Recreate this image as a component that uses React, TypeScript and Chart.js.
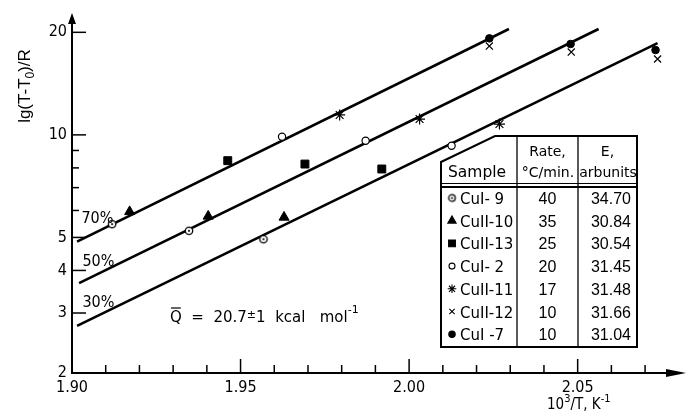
import React, { useEffect, useRef } from 'react';
import { Chart, registerables } from 'chart.js';
import { drawPoint } from 'chart.js/helpers';

Chart.register(...registerables);

const NARROW = "'Liberation Sans Narrow', 'DejaVu Sans Condensed', 'Liberation Sans', sans-serif";
const SANS = "'DejaVu Sans', 'Liberation Sans', sans-serif";
const ARIAL = "'Liberation Sans', Arial, sans-serif";

// fitted straight lines (70 %, 50 %, 30 %)
const fitLabels = ['70%', '50%', '30%'];
const fitLabelX = [1.9028, 1.9031, 1.9031];
const fitLabelY = [5.51, 4.12, 3.12];
const fit70X = [1.9015, 2.0296];
const fit70Y = [4.86, 20.45];
const fit50X = [1.9021, 2.0562];
const fit50Y = [3.67, 20.45];
const fit30X = [1.9015, 2.0737];
const fit30Y = [2.75, 18.6];

// samples (table)
const sampleNames = ['CuI- 9', 'CuII-10', 'CuII-13', 'CuI- 2', 'CuII-11', 'CuII-12', 'CuI -7'];
const sampleRates = ['40', '35', '25', '20', '17', '10', '10'];
const sampleE = ['34.70', '30.84', '30.54', '31.45', '31.48', '31.66', '31.04'];

// measured points, one per line (70 %, 50 %, 30 %)
const cuI9X = [1.9119, 1.9347, 1.9568];
const cuI9Y = [5.47, 5.23, 4.94];
const cuII10X = [1.9171, 1.9404, 1.9629];
const cuII10Y = [5.95, 5.77, 5.73];
const cuII13X = [1.9462, 1.9691, 1.9919];
const cuII13Y = [8.4, 8.21, 7.94];
const cuI2X = [1.9623, 1.9871, 2.0126];
const cuI2Y = [9.88, 9.61, 9.29];
const cuII11X = [1.9794, 2.0031, 2.0268];
const cuII11Y = [11.44, 11.13, 10.76];
const cuII12X = [2.0238, 2.0481, 2.0737];
const cuII12Y = [18.23, 17.5, 16.7];
const cuI7X = [2.0238, 2.0479, 2.0731];
const cuI7Y = [19.2, 18.48, 17.74];

const yTickValues = [2, 3, 4, 5, 10, 20];
const yMinorValues = [6, 7, 8, 9];
const xTickValues = [1.9, 1.95, 2.0, 2.05];
const xMinorValues = [1.91, 1.92, 1.93, 1.94, 1.96, 1.97, 1.98, 1.99, 2.01, 2.02, 2.03, 2.04, 2.06, 2.07];

const zip = (xs: number[], ys: number[]) => xs.map((x, i) => ({ x, y: ys[i] }));

function makeDotCircle(r: number): HTMLCanvasElement {
  const size = Math.ceil(2 * r + 4);
  const c = document.createElement('canvas');
  c.width = size;
  c.height = size;
  const g = c.getContext('2d')!;
  g.fillStyle = '#fff';
  g.strokeStyle = '#000';
  g.lineWidth = 1.3;
  g.beginPath();
  g.arc(size / 2, size / 2, r, 0, Math.PI * 2);
  g.fill();
  g.stroke();
  g.fillStyle = '#000';
  g.beginPath();
  g.arc(size / 2, size / 2, 1.1, 0, Math.PI * 2);
  g.fill();
  return c;
}

export default function App() {
  const ref = useRef<HTMLCanvasElement>(null);

  useEffect(() => {
    if (!ref.current) return;
    const dotCircle = makeDotCircle(3.7);
    const dotCircleSmall = makeDotCircle(3.3);

    const markerStyles: any[] = [
      { pointStyle: dotCircle, radius: 4, bg: '#fff', bw: 1, tStyle: dotCircleSmall, tr: 3 },
      { pointStyle: 'triangle', radius: 5.8, bg: '#000', bw: 1, tStyle: 'triangle', tr: 4.8 },
      { pointStyle: 'rect', radius: 5.6, bg: '#000', bw: 1, tStyle: 'rect', tr: 4.8 },
      { pointStyle: 'circle', radius: 3.6, bg: '#fff', bw: 1.2, tStyle: 'circle', tr: 3 },
      { pointStyle: 'star', radius: 5.5, bg: '#000', bw: 1.2, tStyle: 'star', tr: 4.3 },
      { pointStyle: 'crossRot', radius: 5, bg: '#000', bw: 1.2, tStyle: 'crossRot', tr: 3.8 },
      { pointStyle: 'circle', radius: 3.8, bg: '#000', bw: 1, tStyle: 'circle', tr: 3.2 },
    ];
    const sampleData = [
      zip(cuI9X, cuI9Y),
      zip(cuII10X, cuII10Y),
      zip(cuII13X, cuII13Y),
      zip(cuI2X, cuI2Y),
      zip(cuII11X, cuII11Y),
      zip(cuII12X, cuII12Y),
      zip(cuI7X, cuI7Y),
    ];

    const datasets: any[] = sampleData.map((d, i) => ({
      label: sampleNames[i],
      data: d,
      pointStyle: markerStyles[i].pointStyle,
      pointRadius: markerStyles[i].radius,
      pointBackgroundColor: markerStyles[i].bg,
      pointBorderColor: '#000',
      pointBorderWidth: markerStyles[i].bw,
      showLine: false,
      order: 0,
    }));
    [zip(fit70X, fit70Y), zip(fit50X, fit50Y), zip(fit30X, fit30Y)].forEach((d, i) => {
      datasets.push({
        label: fitLabels[i],
        data: d,
        showLine: true,
        borderColor: '#000',
        borderWidth: 2.6,
        pointRadius: 0,
        order: 5,
      });
    });

    const annotate = {
      id: 'annotate',
      afterDraw(chart: any) {
        const { ctx, chartArea, scales } = chart;
        const { left, right, top, bottom } = chartArea;
        const xs = scales.x;
        const ys = scales.y;
        ctx.save();
        ctx.strokeStyle = '#000';
        ctx.fillStyle = '#000';
        // axes
        ctx.lineWidth = 2;
        ctx.beginPath();
        ctx.moveTo(left, top);
        ctx.lineTo(left, bottom);
        ctx.lineTo(right, bottom);
        ctx.stroke();
        // arrows
        ctx.beginPath();
        ctx.moveTo(left - 4, top + 1);
        ctx.lineTo(left + 4, top + 1);
        ctx.lineTo(left, top - 10);
        ctx.closePath();
        ctx.fill();
        ctx.beginPath();
        ctx.moveTo(right - 1, bottom - 4);
        ctx.lineTo(right - 1, bottom + 4);
        ctx.lineTo(right + 19, bottom);
        ctx.closePath();
        ctx.fill();
        // ticks (inside)
        ctx.lineWidth = 1.5;
        yTickValues.forEach((v) => {
          if (v === 2) return;
          const p = ys.getPixelForValue(v);
          ctx.beginPath();
          ctx.moveTo(left, p);
          ctx.lineTo(left + 14, p);
          ctx.stroke();
        });
        yMinorValues.forEach((v) => {
          const p = ys.getPixelForValue(v);
          ctx.beginPath();
          ctx.moveTo(left, p);
          ctx.lineTo(left + 7, p);
          ctx.stroke();
        });
        xTickValues.forEach((v) => {
          const p = xs.getPixelForValue(v);
          ctx.beginPath();
          ctx.moveTo(p, bottom);
          ctx.lineTo(p, bottom - 14);
          ctx.stroke();
        });
        xMinorValues.forEach((v) => {
          const p = xs.getPixelForValue(v);
          ctx.beginPath();
          ctx.moveTo(p, bottom);
          ctx.lineTo(p, bottom - 8);
          ctx.stroke();
        });

        // percent labels
        ctx.font = `16px ${NARROW}`;
        ctx.textAlign = 'left';
        ctx.textBaseline = 'alphabetic';
        fitLabels.forEach((t, i) => {
          ctx.fillText(t, xs.getPixelForValue(fitLabelX[i]), ys.getPixelForValue(fitLabelY[i]));
        });

        // Y title (rotated)
        ctx.save();
        ctx.translate(30, 86);
        ctx.rotate(-Math.PI / 2);
        const big = `17px ${ARIAL}`;
        const small = `12px ${ARIAL}`;
        const parts: [string, string, number][] = [
          ['lg(T-T', big, 0],
          ['0', small, 4],
          [')/R', big, 0],
        ];
        let w = 0;
        parts.forEach(([t, f]) => {
          ctx.font = f;
          w += ctx.measureText(t).width;
        });
        let cx = -w / 2;
        parts.forEach(([t, f, dy]) => {
          ctx.font = f;
          ctx.fillText(t, cx, dy);
          cx += ctx.measureText(t).width;
        });
        ctx.restore();

        // X title
        const xParts: [string, string, number][] = [
          ['10', `15px ${NARROW}`, 0],
          ['3', `11px ${NARROW}`, -7],
          ['/T, K', `15px ${NARROW}`, 0],
          ['-1', `11px ${NARROW}`, -7],
        ];
        let xx = 547;
        xParts.forEach(([t, f, dy]) => {
          ctx.font = f;
          ctx.fillText(t, xx, 409 + dy);
          xx += ctx.measureText(t).width;
        });

        // Q text
        let qx = 170;
        const qb = 322;
        ctx.font = `15px ${SANS}`;
        ctx.fillText('Q', qx, qb);
        const qw = ctx.measureText('Q').width;
        ctx.lineWidth = 1.2;
        ctx.beginPath();
        ctx.moveTo(qx + 1, qb - 14);
        ctx.lineTo(qx + qw - 1, qb - 14);
        ctx.stroke();
        qx += qw;
        const qParts: [string, string, number][] = [
          ['  =  20.7', `15px ${SANS}`, 0],
          ['±', `11px ${SANS}`, -4],
          ['1  kcal   mol', `15px ${SANS}`, 0],
          ['-1', `11px ${SANS}`, -9],
        ];
        qParts.forEach(([t, f, dy]) => {
          ctx.font = f;
          ctx.fillText(t, qx, qb + dy);
          qx += ctx.measureText(t).width;
        });

        // table
        const T = { l: 441, r: 637, t: 136, b: 347, cutX: 495, cutY: 162, c1: 517, c2: 578 };
        ctx.fillStyle = '#fff';
        ctx.beginPath();
        ctx.moveTo(T.l, T.cutY);
        ctx.lineTo(T.cutX, T.t);
        ctx.lineTo(T.r, T.t);
        ctx.lineTo(T.r, T.b);
        ctx.lineTo(T.l, T.b);
        ctx.closePath();
        ctx.fill();
        ctx.fillStyle = '#000';
        ctx.lineWidth = 2;
        ctx.stroke();
        ctx.lineWidth = 1.3;
        [T.c1, T.c2].forEach((c) => {
          ctx.beginPath();
          ctx.moveTo(c, T.t);
          ctx.lineTo(c, T.b);
          ctx.stroke();
        });
        ctx.lineWidth = 1;
        ctx.beginPath();
        ctx.moveTo(T.l, 183.5);
        ctx.lineTo(T.r, 183.5);
        ctx.stroke();
        ctx.lineWidth = 2;
        ctx.beginPath();
        ctx.moveTo(T.l, 187);
        ctx.lineTo(T.r, 187);
        ctx.stroke();

        ctx.font = `15.5px ${SANS}`;
        ctx.textAlign = 'left';
        ctx.fillText('Sample', 448, 177);
        ctx.font = `14px ${SANS}`;
        ctx.textAlign = 'center';
        ctx.fillText('Rate,', (T.c1 + T.c2) / 2, 156);
        ctx.fillText('°C/min.', (T.c1 + T.c2) / 2 + 0.5, 177);
        ctx.fillText('E,', (T.c2 + T.r) / 2, 156);
        ctx.fillText('arbunits', (T.c2 + T.r) / 2 + 0.5, 177);

        const rowBase = 204;
        const rowStep = 22.7;
        sampleNames.forEach((name, i) => {
          const by = rowBase + i * rowStep;
          const m = markerStyles[i];
          ctx.fillStyle = m.bg;
          ctx.strokeStyle = '#000';
          ctx.lineWidth = 1.1;
          drawPoint(ctx, { pointStyle: m.tStyle, radius: m.tr, borderWidth: 1.1, rotation: 0 } as any, 452, by - 6);
          ctx.fillStyle = '#000';
          ctx.font = `15px ${SANS}`;
          ctx.textAlign = 'left';
          ctx.fillText(name, 460, by);
          ctx.font = `16px ${ARIAL}`;
          ctx.textAlign = 'center';
          ctx.fillText(sampleRates[i], (T.c1 + T.c2) / 2, by);
          ctx.textAlign = 'right';
          ctx.fillText(sampleE[i], 631, by);
        });
        ctx.restore();
      },
    };

    const chart = new Chart(ref.current, {
      type: 'scatter',
      data: { datasets },
      options: {
        animation: false,
        responsive: false,
        devicePixelRatio: 1,
        layout: { padding: { left: 0, right: 20, top: 23, bottom: 0 } },
        plugins: { legend: { display: false }, tooltip: { enabled: false } },
        scales: {
          x: {
            type: 'linear',
            min: 1.9,
            max: 2.0765,
            grid: { display: false, drawTicks: false },
            border: { display: false },
            afterFit: (s: any) => {
              s.height = 42;
            },
            afterBuildTicks: (s: any) => {
              s.ticks = xTickValues.map((v) => ({ value: v }));
            },
            ticks: {
              autoSkip: false,
              maxRotation: 0,
              minRotation: 0,
              padding: 5,
              color: '#000',
              font: { family: NARROW, size: 16 },
              callback: (v: any) => Number(v).toFixed(2),
            },
          },
          y: {
            type: 'logarithmic',
            min: 2,
            max: 21.3,
            grid: { display: false, drawTicks: false },
            border: { display: false },
            afterFit: (s: any) => {
              s.width = 72;
            },
            afterBuildTicks: (s: any) => {
              s.ticks = yTickValues.map((v) => ({ value: v }));
            },
            ticks: {
              autoSkip: false,
              padding: 5,
              color: '#000',
              font: { family: NARROW, size: 16 },
              callback: (v: any) => String(v),
            },
          },
        },
      },
      plugins: [annotate],
    });
    return () => chart.destroy();
  }, []);

  return (
    <div style={{ position: 'absolute', left: 0, top: 0, width: 687, height: 415, background: '#fff' }}>
      <canvas ref={ref} width={687} height={415} />
    </div>
  );
}
